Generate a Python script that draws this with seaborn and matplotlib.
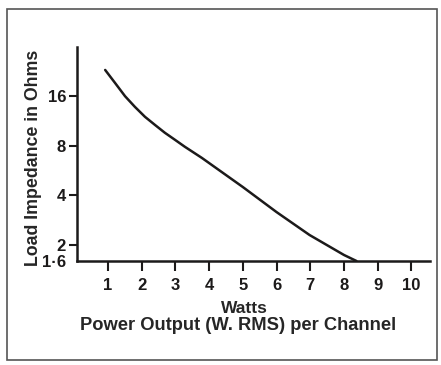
import matplotlib
matplotlib.use("Agg")
import matplotlib.pyplot as plt
from matplotlib.patches import Rectangle
import seaborn as sns
import pandas as pd

# Load impedance versus power output per channel
watts = [0.92, 1.21, 1.51, 1.80, 2.10, 2.40, 2.69, 2.99, 3.28, 3.79,
         5.0, 6.0, 6.98, 8.0, 8.37]
ohms = [23.1, 19.3, 16.0, 13.8, 12.0, 10.7, 9.6, 8.7, 7.9, 6.75,
        4.5, 3.17, 2.3, 1.74, 1.6]
x_ticks = [1, 2, 3, 4, 5, 6, 7, 8, 9, 10]
y_ticks = [1.6, 2, 4, 8, 16]
y_tick_labels = ["1·6", "2", "4", "8", "16"]

sns.set_style("white")
plt.rcParams["font.family"] = ["Liberation Sans", "DejaVu Sans"]
plt.rcParams["font.weight"] = "bold"

df = pd.DataFrame({"watts": watts, "ohms": ohms})

fig = plt.figure(figsize=(4.41, 3.65), dpi=100)
ax = fig.add_axes([0.175, 0.285, 0.80, 0.586])

sns.lineplot(data=df, x="watts", y="ohms", ax=ax, color="#1c1a1a",
             linewidth=1.8, estimator=None, sort=False)

ax.set_yscale("log")
ax.set_ylim(1.6, 31.8)
ax.set_xlim(0.09, 10.55)

ax.set_xticks(x_ticks)
ax.set_xticklabels([str(t) for t in x_ticks], fontsize=12, fontweight="bold")
ax.set_yticks(y_ticks)
ax.set_yticklabels(y_tick_labels, fontsize=12, fontweight="bold")
ax.yaxis.set_minor_locator(matplotlib.ticker.NullLocator())
ax.tick_params(axis="x", bottom=True, direction="out", length=7, width=1.5, pad=5,
               colors="#1c1a1a")
ax.tick_params(axis="y", left=True, direction="out", length=6, width=1.5, pad=2,
               colors="#1c1a1a")
# the 1.6 label sits at the corner without its own tick mark
ax.yaxis.get_major_ticks()[0].tick1line.set_visible(False)

for side in ("top", "right"):
    ax.spines[side].set_visible(False)
for side in ("left", "bottom"):
    ax.spines[side].set_linewidth(1.8)
    ax.spines[side].set_color("#1c1a1a")

ax.set_xlabel("")
ax.set_ylabel("Load Impedance in Ohms", fontsize=12.8, fontweight="bold")
ax.yaxis.set_label_coords(-0.10, 0.48)

fig.text(0.555, 0.155, "Watts", ha="center", va="center", fontsize=12.5, fontweight="bold")
fig.text(0.54, 0.108, "Power Output (W. RMS) per Channel", ha="center", va="center",
         fontsize=13.2, fontweight="bold")

fig.patches.append(Rectangle((0.016, 0.014), 0.975, 0.96, transform=fig.transFigure,
                             fill=False, edgecolor="#555555", linewidth=1.2))

fig.savefig("out.png", dpi=100)
